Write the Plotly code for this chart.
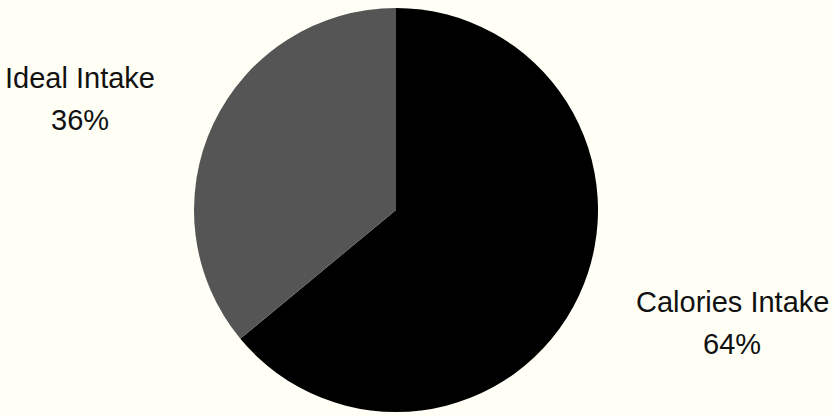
import plotly.graph_objects as go

labels = ["Calories Intake", "Ideal Intake"]
values = [64, 36]
colors = ["#000000", "#555555"]

# label anchor positions (paper coords) for each category
label_x = [732 / 833, 80 / 833]
label_y_top = [1 - 302 / 416, 1 - 78 / 416]
line_gap = 42 / 416

bg = "#FFFFF6"

fig = go.Figure(go.Pie(
    labels=labels,
    values=values,
    sort=False,
    direction="clockwise",
    rotation=0,
    marker=dict(colors=colors, line=dict(width=0)),
    textinfo="none",
    hoverinfo="label+percent",
    showlegend=False,
    domain=dict(x=[(396 - 202) / 833, (396 + 202) / 833],
                y=[(206 - 202) / 416, (206 + 202) / 416]),
))

total = sum(values)
font = dict(family="Liberation Sans, Arial, sans-serif", size=29, color="#111111")
for lab, v, x, y in zip(labels, values, label_x, label_y_top):
    pct = f"{round(100 * v / total)}%"
    fig.add_annotation(x=x, y=y, xref="paper", yref="paper", text=lab,
                       showarrow=False, font=font, xanchor="center", yanchor="middle")
    fig.add_annotation(x=x, y=y - line_gap, xref="paper", yref="paper", text=pct,
                       showarrow=False, font=font, xanchor="center", yanchor="middle")

fig.update_layout(
    width=833, height=416,
    margin=dict(l=0, r=0, t=0, b=0),
    paper_bgcolor=bg, plot_bgcolor=bg,
)
fig.write_html("out.html")
